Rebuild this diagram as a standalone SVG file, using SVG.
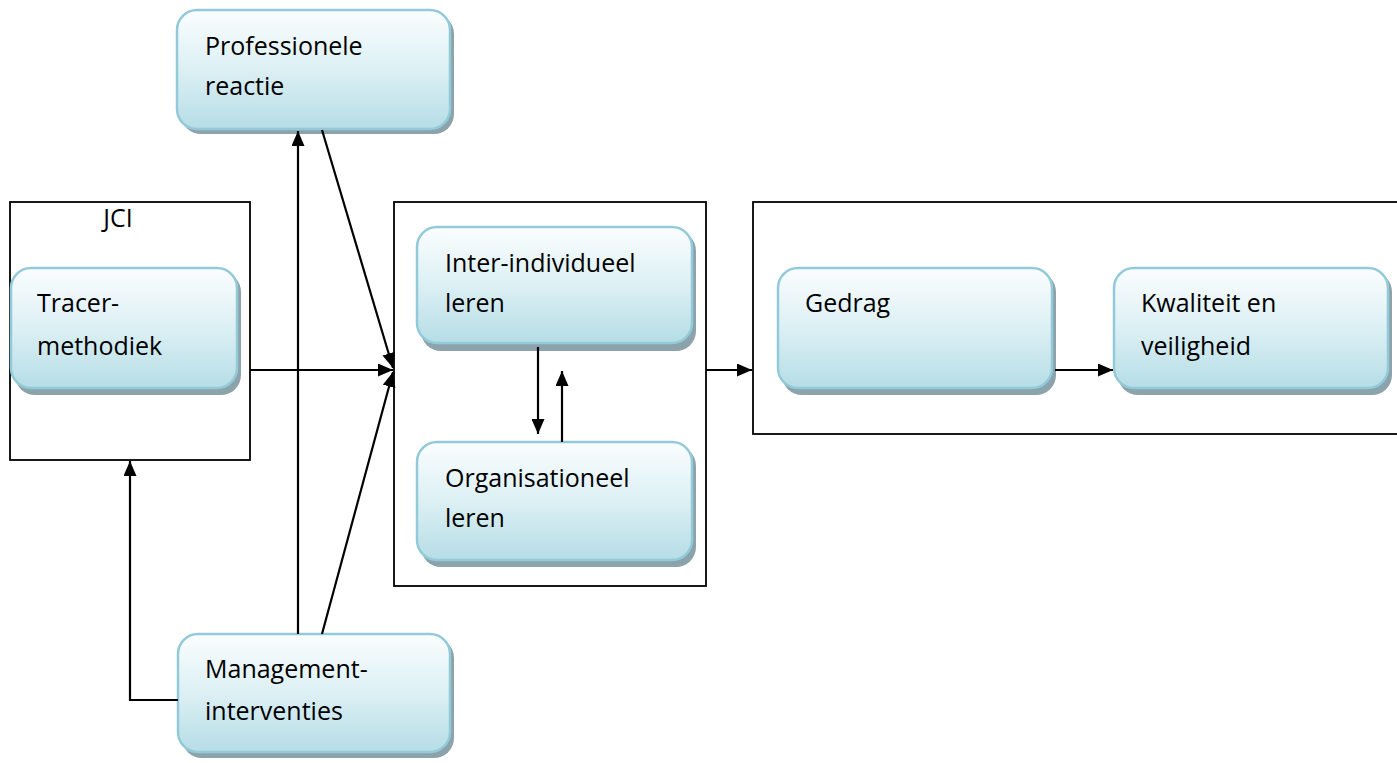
<svg xmlns="http://www.w3.org/2000/svg" width="1397" height="763" viewBox="0 0 1397 763">
<defs>
<linearGradient id="g" x1="0" y1="0" x2="0" y2="1">
<stop offset="0" stop-color="#fbfdfe"/>
<stop offset="0.5" stop-color="#dcf0f4"/>
<stop offset="1" stop-color="#b6dde6"/>
</linearGradient>
<marker id="a" viewBox="0 0 15 13" refX="15" refY="6.5" markerWidth="15" markerHeight="13" markerUnits="userSpaceOnUse" orient="auto">
<path d="M0,0 L15,6.5 L0,13 z" fill="#000"/>
</marker>
</defs>
<style>
.frame{fill:#fff;stroke:#000;stroke-width:1.8}
.sh{fill:#8ca3ab}
.bx{fill:url(#g);stroke:#93cad9;stroke-width:2.5}
.t{font-family:"Open Sans","Liberation Sans",sans-serif;font-size:25px;fill:#000}
.c{fill:none;stroke:#000;stroke-width:2.2}
</style>
<rect width="1397" height="763" fill="#fff"/>
<g id="jci-frame">
<rect class="frame" x="10" y="202" width="240" height="258"/>
<text class="t" x="118" y="227" text-anchor="middle">JCI</text>
</g>
<g id="learning-frame">
<rect class="frame" x="394" y="202" width="312" height="384"/>
</g>
<g id="outcome-frame">
<rect class="frame" x="753" y="202" width="660" height="232"/>
</g>
<g id="professionele-reactie">
<rect class="sh" x="181" y="14" width="273" height="120" rx="20"/>
<rect class="bx" x="177" y="10" width="273" height="119" rx="20"/>
<text class="t" x="205" y="55">Professionele</text>
<text class="t" x="205" y="95">reactie</text>
</g>
<g id="tracer-methodiek">
<rect class="sh" x="15" y="272" width="226" height="123" rx="20"/>
<rect class="bx" x="11" y="268" width="226" height="120" rx="20"/>
<text class="t" x="37" y="312">Tracer-</text>
<text class="t" x="37" y="355">methodiek</text>
</g>
<g id="inter-individueel-leren">
<rect class="sh" x="421" y="231" width="275" height="120" rx="20"/>
<rect class="bx" x="417" y="227" width="275" height="116" rx="20"/>
<text class="t" x="445" y="272">Inter-individueel</text>
<text class="t" x="445" y="312">leren</text>
</g>
<g id="organisationeel-leren">
<rect class="sh" x="421" y="446" width="275" height="121" rx="20"/>
<rect class="bx" x="417" y="442" width="275" height="118" rx="20"/>
<text class="t" x="445" y="487">Organisationeel</text>
<text class="t" x="445" y="527">leren</text>
</g>
<g id="gedrag">
<rect class="sh" x="782" y="272" width="274" height="123" rx="20"/>
<rect class="bx" x="778" y="268" width="274" height="120" rx="20"/>
<text class="t" x="805" y="312">Gedrag</text>
</g>
<g id="kwaliteit-en-veiligheid">
<rect class="sh" x="1118" y="272" width="274" height="123" rx="20"/>
<rect class="bx" x="1114" y="268" width="274" height="120" rx="20"/>
<text class="t" x="1141" y="312">Kwaliteit en</text>
<text class="t" x="1141" y="355">veiligheid</text>
</g>
<g id="management-interventies">
<rect class="sh" x="182" y="638" width="272" height="120" rx="20"/>
<rect class="bx" x="178" y="634" width="272" height="118" rx="20"/>
<text class="t" x="205" y="678">Management-</text>
<text class="t" x="205" y="720">interventies</text>
</g>
<g id="connectors">
<line class="c" x1="250" y1="370" x2="393" y2="370" marker-end="url(#a)"/>
<line class="c" x1="322" y1="130" x2="393" y2="368" marker-end="url(#a)"/>
<line class="c" x1="322" y1="634" x2="393" y2="372" marker-end="url(#a)"/>
<line class="c" x1="298" y1="634" x2="298" y2="131" marker-end="url(#a)"/>
<polyline class="c" points="178,700 130,700 130,461" marker-end="url(#a)"/>
<line class="c" x1="706" y1="370" x2="752" y2="370" marker-end="url(#a)"/>
<line class="c" x1="1055" y1="370" x2="1113" y2="370" marker-end="url(#a)"/>
<line class="c" x1="538" y1="347" x2="538" y2="434" marker-end="url(#a)"/>
<line class="c" x1="562" y1="442" x2="562" y2="371" marker-end="url(#a)"/>
</g>
</svg>
